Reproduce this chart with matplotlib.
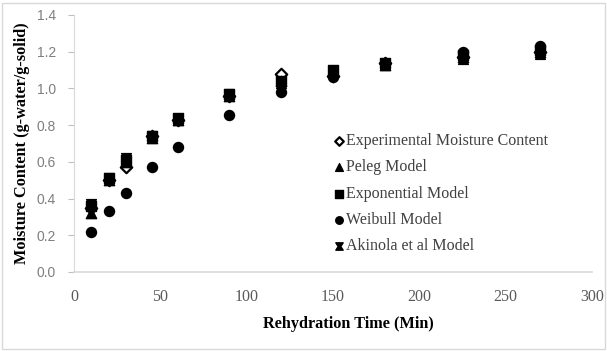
import matplotlib
matplotlib.use("Agg")
import matplotlib.pyplot as plt
from matplotlib.path import Path
from matplotlib.patches import Rectangle

time_min = [10, 20, 30, 45, 60, 90, 120, 150, 180, 225, 270]
experimental = [0.35, 0.50, 0.57, 0.74, 0.83, 0.96, 1.08, 1.07, 1.14, 1.17, 1.20]
peleg = [0.32, 0.50, 0.60, 0.73, 0.83, 0.96, 1.04, 1.09, 1.13, 1.17, 1.20]
exponential = [0.36, 0.51, 0.61, 0.74, 0.84, 0.97, 1.04, 1.10, 1.14, 1.18, 1.21]
weibull = [0.22, 0.33, 0.43, 0.57, 0.68, 0.855, 0.98, 1.06, 1.14, 1.20, 1.23]
akinola = [0.37, 0.51, 0.62, 0.74, 0.83, 0.97, 1.03, 1.09, 1.13, 1.16, 1.19]

series_names = ["Experimental Moisture Content", "Peleg Model", "Exponential Model",
                "Weibull Model", "Akinola et al Model"]
x_ticks = [0, 50, 100, 150, 200, 250, 300]
y_ticks = [0.0, 0.2, 0.4, 0.6, 0.8, 1.0, 1.2, 1.4]

hourglass = Path([(-1, 1), (1, 1), (0.35, 0), (1, -1), (-1, -1), (-0.35, 0), (-1, 1)],
                 [Path.MOVETO, Path.LINETO, Path.LINETO, Path.LINETO, Path.LINETO,
                  Path.LINETO, Path.CLOSEPOLY])

fig = plt.figure(figsize=(6.07, 3.51), dpi=100)
fig.patches.append(Rectangle((0.003, 0.006), 0.994, 0.986, transform=fig.transFigure,
                             fill=False, edgecolor="#d9d9d9", linewidth=1.0))
ax = fig.add_axes([0.1219, 0.2251, 0.8534, 0.7322])

serif = "Liberation Serif"
ax.scatter(time_min, experimental, marker="D", s=34, facecolor="white", edgecolor="black",
           linewidths=1.6, label=series_names[0], zorder=3)
ax.scatter(time_min, peleg, marker="^", s=55, color="black", label=series_names[1], zorder=4)
ax.scatter(time_min, exponential, marker="s", s=48, color="black", label=series_names[2], zorder=5)
ax.scatter(time_min, weibull, marker="o", s=52, color="black", label=series_names[3], zorder=6)
ax.scatter(time_min, akinola, marker=hourglass, s=50, color="black", label=series_names[4], zorder=7)

ax.set_xlim(0, 300)
ax.set_ylim(0, 1.4)
ax.set_xticks(x_ticks)
ax.set_yticks(y_ticks)
ax.set_xticklabels([str(v) for v in x_ticks], fontfamily=serif, fontsize=11.5, color="#595959")
ax.set_yticklabels([f"{v:.1f}" for v in y_ticks], fontfamily="Liberation Sans", fontsize=10, color="#7f7f7f")
ax.tick_params(axis="x", length=0, pad=12)
ax.tick_params(axis="y", length=4, color="#bfbfbf", direction="out", pad=9)
for s in ["top", "right"]:
    ax.spines[s].set_visible(False)
ax.spines["left"].set_color("#d9d9d9")
ax.spines["bottom"].set_color("#d9d9d9")
ax.spines["bottom"].set_linewidth(1.2)

ax.set_xlabel("Rehydration Time (Min)", fontfamily=serif, fontweight="bold", fontsize=11.7)
ax.set_ylabel("Moisture Content (g-water/g-solid)", fontfamily=serif, fontweight="bold", fontsize=11.7)
ax.xaxis.set_label_coords(0.529, -0.171)
ax.yaxis.set_label_coords(-0.085, 0.5)

leg = fig.legend(loc="upper left", bbox_to_anchor=(0.5335, 0.644), frameon=False,
                 prop={"family": serif, "size": 11.5}, handletextpad=0.0, labelspacing=0.65,
                 markerscale=0.75, borderpad=0, handlelength=0.9)
for t in leg.get_texts():
    t.set_color("#404040")

fig.savefig("out.png", dpi=100)
